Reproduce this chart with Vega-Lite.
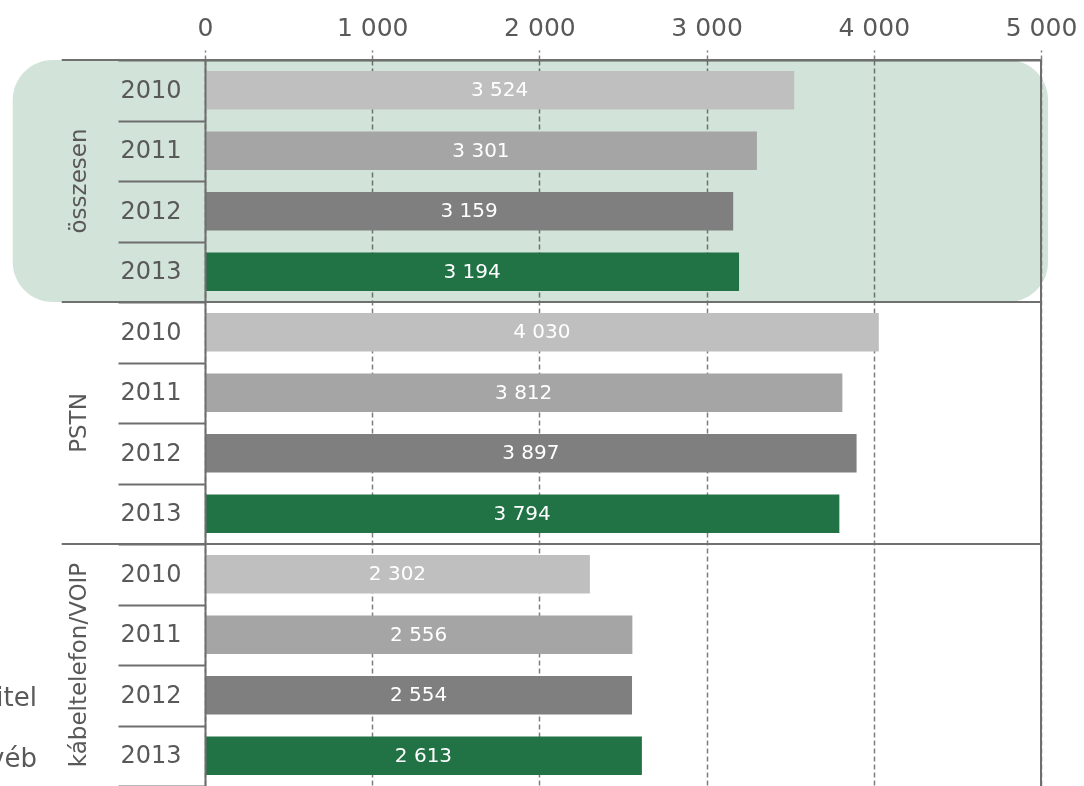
{
  "$schema": "https://vega.github.io/schema/vega-lite/v6.json",
  "width": 836,
  "height": 726,
  "autosize": {"type": "none"},
  "padding": {"left": 205, "top": 60, "right": 43, "bottom": 0},
  "config": {
    "view": {"stroke": null},
    "font": "DejaVu Sans",
    "locale": {"number": {"decimal": ",", "thousands": "\u00a0", "grouping": [3], "currency": ["", ""]}}
  },
  "datasets": {
    "bars": [
      {"group": "összesen", "year": "2010", "key": "összesen|2010", "value": 3524},
      {"group": "összesen", "year": "2011", "key": "összesen|2011", "value": 3301},
      {"group": "összesen", "year": "2012", "key": "összesen|2012", "value": 3159},
      {"group": "összesen", "year": "2013", "key": "összesen|2013", "value": 3194},
      {"group": "PSTN", "year": "2010", "key": "PSTN|2010", "value": 4030},
      {"group": "PSTN", "year": "2011", "key": "PSTN|2011", "value": 3812},
      {"group": "PSTN", "year": "2012", "key": "PSTN|2012", "value": 3897},
      {"group": "PSTN", "year": "2013", "key": "PSTN|2013", "value": 3794},
      {"group": "kábeltelefon/VOIP", "year": "2010", "key": "kábeltelefon/VOIP|2010", "value": 2302},
      {"group": "kábeltelefon/VOIP", "year": "2011", "key": "kábeltelefon/VOIP|2011", "value": 2556},
      {"group": "kábeltelefon/VOIP", "year": "2012", "key": "kábeltelefon/VOIP|2012", "value": 2554},
      {"group": "kábeltelefon/VOIP", "year": "2013", "key": "kábeltelefon/VOIP|2013", "value": 2613}
    ],
    "groups": [
      {"group": "összesen"},
      {"group": "PSTN"},
      {"group": "kábeltelefon/VOIP"}
    ],
    "cut": [
      {"key": "kábeltelefon/VOIP|2012", "text": "itel"},
      {"key": "kábeltelefon/VOIP|2013", "text": "véb"}
    ],
    "edge": [{"edge": "right"}]
  },
  "resolve": {"scale": {"y": "independent"}},
  "layer": [
    {
      "data": {"name": "groups"},
      "layer": [
        {
          "transform": [{"filter": "datum.group === 'összesen'"}],
          "mark": {"type": "rect", "cornerRadius": 40, "color": "#d2e3d9", "blend": "multiply"},
          "encoding": {
            "y": {"field": "group", "type": "nominal", "scale": {"domain": ["összesen", "PSTN", "kábeltelefon/VOIP"], "paddingInner": 0, "paddingOuter": 0}, "axis": null},
            "x": {"datum": -1150, "type": "quantitative", "scale": {"domain": [0, 5000], "nice": false, "zero": false}},
            "x2": {"datum": 5042}
          }
        },
        {
          "mark": {"type": "rule", "color": "#707070", "strokeWidth": 2},
          "encoding": {
            "y": {"field": "group", "type": "nominal", "bandPosition": 0, "scale": {"domain": ["összesen", "PSTN", "kábeltelefon/VOIP"], "paddingInner": 0, "paddingOuter": 0}, "axis": null},
            "x": {"datum": -857, "type": "quantitative", "scale": {"domain": [0, 5000], "nice": false, "zero": false}},
            "x2": {"datum": 5000}
          }
        },
        {
          "mark": {"type": "text", "angle": 270, "fontSize": 23, "color": "#595959", "align": "center", "baseline": "middle"},
          "encoding": {
            "y": {"field": "group", "type": "nominal", "scale": {"domain": ["összesen", "PSTN", "kábeltelefon/VOIP"], "paddingInner": 0, "paddingOuter": 0}, "axis": null},
            "x": {"datum": -754, "type": "quantitative", "scale": {"domain": [0, 5000], "nice": false, "zero": false}},
            "text": {"field": "group"}
          }
        }
      ]
    },
    {
      "layer": [
        {
          "data": {"name": "bars"},
          "mark": {"type": "bar", "height": {"band": 0.64}},
          "encoding": {
            "y": {
              "field": "key", "type": "nominal",
              "scale": {"domain": ["összesen|2010", "összesen|2011", "összesen|2012", "összesen|2013", "PSTN|2010", "PSTN|2011", "PSTN|2012", "PSTN|2013", "kábeltelefon/VOIP|2010", "kábeltelefon/VOIP|2011", "kábeltelefon/VOIP|2012", "kábeltelefon/VOIP|2013"], "paddingInner": 0, "paddingOuter": 0},
              "axis": {
                "orient": "left", "title": null, "labelExpr": "split(datum.label, '|')[1]",
                "labelFontSize": 24, "labelColor": "#595959", "labelPadding": -63,
                "tickBand": "extent", "tickSize": 87, "tickColor": "#6e6e6e", "tickWidth": 2,
                "domainColor": "#6e6e6e", "domainWidth": 2, "grid": false, "zindex": 1
              }
            },
            "x": {
              "field": "value", "type": "quantitative",
              "scale": {"domain": [0, 5000], "nice": false, "zero": false},
              "axis": {
                "orient": "top", "title": null, "values": [0, 1000, 2000, 3000, 4000, 5000], "format": ",.0f",
                "labelFontSize": 25, "labelColor": "#595959", "labelPadding": 10, "labelFlush": false,
                "tickSize": 10, "tickDash": [5, 3], "tickColor": "#7f7f7f", "tickWidth": 1.5,
                "grid": true, "gridDash": [5, 3], "gridColor": "#7f7f7f", "gridWidth": 1.5,
                "domainColor": "#6e6e6e", "domainWidth": 2, "zindex": 0
              }
            },
            "color": {
              "field": "year", "type": "nominal",
              "scale": {"domain": ["2010", "2011", "2012", "2013"], "range": ["#bfbfbf", "#a5a5a5", "#7f7f7f", "#217346"]},
              "legend": null
            }
          }
        },
        {
          "data": {"name": "bars"},
          "mark": {"type": "text", "color": "white", "fontSize": 20, "align": "center", "baseline": "middle"},
          "encoding": {
            "y": {"field": "key", "type": "nominal"},
            "x": {"field": "value", "type": "quantitative", "stack": "zero", "bandPosition": 0.5, "scale": {"domain": [0, 5000], "nice": false, "zero": false}},
            "text": {"field": "value", "type": "quantitative", "format": ",.0f"}
          }
        },
        {
          "data": {"name": "cut"},
          "mark": {"type": "text", "color": "#595959", "fontSize": 26, "align": "right", "baseline": "middle", "dy": 3},
          "encoding": {
            "y": {"field": "key", "type": "nominal"},
            "x": {"datum": -1005, "type": "quantitative", "scale": {"domain": [0, 5000], "nice": false, "zero": false}},
            "text": {"field": "text"}
          }
        },
        {
          "data": {"name": "edge"},
          "mark": {"type": "rule", "color": "#6e6e6e", "strokeWidth": 2},
          "encoding": {
            "x": {"datum": 5000, "type": "quantitative", "scale": {"domain": [0, 5000], "nice": false, "zero": false}}
          }
        }
      ]
    }
  ]
}
